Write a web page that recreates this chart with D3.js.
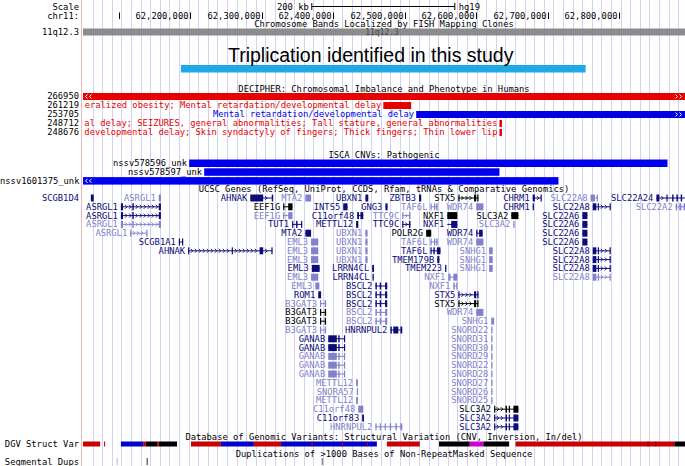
<!DOCTYPE html>
<html>
<head>
<meta charset="utf-8">
<script src="https://cdn.jsdelivr.net/npm/d3@7"></script>
<style>
  body { margin: 0; background: #fff; }
  text { font-family: "DejaVu Sans Mono", monospace; font-size: 8.8px; }
</style>
</head>
<body>
<div id="plot"></div>
<script>
// ---- data (positions in kb on chr11, hg19) ----
const tickKb = [62100, 62200, 62300, 62400, 62500, 62600, 62700, 62800];
const scaleBarKb = [62370, 62570];
const bandName = "11q12.3";
const triplicationKb = [62187, 62753];

const decipherIds = ["266950", "261219", "253705", "248712", "248676"];
const decipherPheno = [
  "",
  "Generalized obesity; Mental retardation/developmental delay",
  "Mental retardation/developmental delay",
  "Mental retardation/developmental delay; SEIZURES, general abnormalities; Tall stature, general abnormalities",
  "Mental retardation/developmental delay; Skin syndactyly of fingers; Thick fingers; Thin lower lip"
];
const decipherStart = [62030, 62470, 62516, 62632.5, 62632.5];
const decipherEnd = [62910, 62509, 62910, 62636, 62636];
const decipherKind = ["red", "red", "blue", "red", "red"];

const iscaIds = ["nssv578596_unk", "nssv578597_unk", "nssv1601375_unk"];
const iscaStart = [62198.5, 62219.5, 62030];
const iscaEnd = [62867.5, 62632.5, 62715];

// UCSC genes: [row, name, shade, start, end, exons]
const asrglEx = [[62103, 62106], [62119, 62121], [62156, 62159]];
const stx5Ex = [[62575, 62576.5], [62597, 62600], [62601.5, 62603]];
const taf6lEx = [[62536, 62537], [62541, 62542], [62544, 62546]];
const slc22a8Ex = [[62763, 62768], [62770, 62771.5], [62786.5, 62788]];
const bscl2Ex = [[62459, 62461], [62465, 62467], [62472.5, 62475.5]];
const b3gat3Ex = [[62381.5, 62383], [62388, 62390]];
const ganabEx = [[62393, 62405], [62407, 62409], [62415, 62416.5]];
const slc3a2Ex = [[62625, 62626], [62641, 62643], [62645.5, 62647], [62652, 62659]];
const genes = [
  [1, "SCGB1D4", "n", 62061, 62065],
  [1, "ASRGL1", "l", 62156, 62159],
  [1, "AHNAK", "n", 62284, 62316, [[62284, 62302], [62314, 62316]]],
  [1, "MTA2", "l", 62361, 62369],
  [1, "UBXN1", "n", 62445, 62449],
  [1, "ZBTB3", "n", 62520, 62523],
  [1, "STX5", "k", 62575, 62603, stx5Ex],
  [1, "CHRM1", "n", 62679, 62691, [[62679, 62682], [62690, 62691]]],
  [1, "SLC22A8", "l", 62760, 62770, [[62760, 62766], [62768.5, 62770]]],
  [1, "SLC22A24", "n", 62852, 62900, [[62852, 62856], [62866, 62867.5], [62874, 62876], [62880, 62882], [62886, 62888]]],
  [2, "ASRGL1", "n", 62103, 62159, asrglEx],
  [2, "EEF1G", "k", 62330, 62343, [[62330, 62331.5], [62337, 62343]]],
  [2, "INTS5", "n", 62414, 62420],
  [2, "GNG3", "n", 62473, 62476],
  [2, "TAF6L", "l", 62536, 62546, taf6lEx],
  [2, "WDR74", "l", 62600, 62610],
  [2, "CHRM1", "n", 62679, 62680.5],
  [2, "SLC22A8", "n", 62763, 62788, slc22a8Ex],
  [2, "SLC22A2", "l", 62879, 62900, [[62879, 62881], [62884, 62887], [62890, 62892]]],
  [3, "ASRGL1", "n", 62103, 62159, asrglEx],
  [3, "EEF1G", "l", 62330, 62343, [[62330, 62331.5], [62337, 62343]]],
  [3, "C11orf48", "n", 62433.5, 62442, [[62433.5, 62436], [62438, 62442]]],
  [3, "TTC9C", "l", 62496.5, 62508, [[62496.5, 62498], [62506, 62508]]],
  [3, "NXF1", "k", 62559.5, 62573.5],
  [3, "SLC3A2", "k", 62649, 62659],
  [3, "SLC22A6", "n", 62748.5, 62755.5],
  [4, "ASRGL1", "l", 62103, 62159, asrglEx],
  [4, "TUT1", "n", 62342.5, 62356.5, [[62342.5, 62344], [62348, 62350], [62355, 62356.5]]],
  [4, "METTL12", "n", 62432, 62435],
  [4, "TTC9C", "n", 62496.5, 62508, [[62496.5, 62498], [62506, 62508]]],
  [4, "NXF1", "n", 62559.5, 62573.5, [[62565, 62573.5]]],
  [4, "SLC3A2", "l", 62652, 62653.5],
  [4, "SLC22A6", "n", 62748.5, 62755.5],
  [5, "ASRGL1", "l", 62116, 62140, [[62116, 62117], [62138.5, 62140]]],
  [5, "MTA2", "n", 62361, 62369],
  [5, "UBXN1", "l", 62445, 62448],
  [5, "POLR2G", "k", 62530, 62537],
  [5, "WDR74", "n", 62600, 62609, [[62600, 62601], [62604, 62609]]],
  [5, "SLC22A6", "n", 62748.5, 62755.5],
  [6, "SCGB1A1", "n", 62184, 62190, [[62184, 62185], [62188.5, 62190]]],
  [6, "EML3", "l", 62369, 62379],
  [6, "UBXN1", "l", 62445, 62448],
  [6, "TAF6L", "l", 62536, 62546, taf6lEx],
  [6, "WDR74", "l", 62600, 62610],
  [6, "SLC22A6", "n", 62748.5, 62755.5],
  [7, "AHNAK", "n", 62197, 62315, [[62197, 62198], [62258, 62259.5], [62297, 62302], [62313.5, 62315]]],
  [7, "EML3", "l", 62369, 62379],
  [7, "UBXN1", "l", 62445, 62448],
  [7, "TAF6L", "n", 62536, 62550, [[62536, 62537], [62540, 62542], [62545, 62550]]],
  [7, "SNHG1", "l", 62618, 62623],
  [7, "SLC22A8", "n", 62763, 62788, slc22a8Ex],
  [8, "EML3", "l", 62369, 62379],
  [8, "UBXN1", "l", 62445, 62448],
  [8, "TMEM179B", "n", 62545.5, 62548.5],
  [8, "SNHG1", "l", 62618, 62623],
  [8, "SLC22A8", "n", 62763, 62788, slc22a8Ex],
  [9, "EML3", "n", 62370, 62381],
  [9, "LRRN4CL", "n", 62454.5, 62457],
  [9, "TMEM223", "n", 62556.5, 62558],
  [9, "SNHG1", "l", 62618, 62623],
  [9, "SLC22A8", "n", 62763, 62788, slc22a8Ex],
  [10, "EML3", "l", 62369, 62379],
  [10, "LRRN4CL", "n", 62455, 62456.5],
  [10, "NXF1", "l", 62561, 62573.5, [[62561, 62564], [62568, 62573.5]]],
  [10, "SLC22A8", "l", 62763, 62788, slc22a8Ex],
  [11, "EML3", "l", 62375, 62380.5],
  [11, "BSCL2", "n", 62459, 62475.5, bscl2Ex],
  [11, "NXF1", "l", 62568, 62573.5, [[62568, 62570], [62572, 62573.5]]],
  [12, "ROM1", "n", 62379, 62383],
  [12, "BSCL2", "n", 62459, 62475.5, bscl2Ex],
  [12, "STX5", "n", 62575, 62603, stx5Ex],
  [13, "B3GAT3", "l", 62381.5, 62390, b3gat3Ex],
  [13, "BSCL2", "n", 62459, 62475.5, bscl2Ex],
  [13, "STX5", "k", 62575, 62603, stx5Ex],
  [14, "B3GAT3", "k", 62381.5, 62390, b3gat3Ex],
  [14, "BSCL2", "l", 62459, 62475.5, bscl2Ex],
  [14, "WDR74", "l", 62600, 62610],
  [15, "B3GAT3", "k", 62381.5, 62390, b3gat3Ex],
  [15, "BSCL2", "l", 62459, 62475.5, bscl2Ex],
  [15, "SNHG1", "l", 62621, 62625],
  [16, "B3GAT3", "l", 62381.5, 62390, b3gat3Ex],
  [16, "HNRNPUL2", "n", 62480, 62496.5, [[62480, 62482], [62484, 62491], [62494, 62496.5]]],
  [16, "SNORD22", "l", 62621, 62622.5],
  [17, "GANAB", "n", 62393, 62416.5, ganabEx],
  [17, "SNORD31", "l", 62621, 62622.5],
  [18, "GANAB", "n", 62393, 62416.5, ganabEx],
  [18, "SNORD30", "l", 62621, 62622.5],
  [19, "GANAB", "l", 62393, 62416.5, ganabEx],
  [19, "SNORD29", "l", 62621, 62622.5],
  [20, "GANAB", "l", 62393, 62416.5, ganabEx],
  [20, "SNORD22", "l", 62621, 62622.5],
  [21, "GANAB", "l", 62393, 62416.5, ganabEx],
  [21, "SNORD28", "l", 62621, 62622.5],
  [22, "METTL12", "l", 62432, 62434.5],
  [22, "SNORD27", "l", 62621, 62622.5],
  [23, "SNORA57", "l", 62433, 62434],
  [23, "SNORD26", "l", 62621, 62622.5],
  [24, "METTL12", "l", 62432, 62434.5],
  [24, "SNORD25", "l", 62621, 62622.5],
  [25, "C11orf48", "l", 62435, 62442],
  [25, "SLC3A2", "k", 62625, 62659, slc3a2Ex],
  [26, "C11orf83", "n", 62440.5, 62443],
  [26, "SLC3A2", "n", 62625, 62659, slc3a2Ex],
  [27, "HNRNPUL2", "l", 62459, 62496.5, [[62459, 62460], [62465, 62466], [62472, 62473], [62479, 62481], [62487, 62489], [62494, 62496.5]]],
  [27, "SLC3A2", "n", 62625, 62659, slc3a2Ex]
];

// DGV structural variants: [start, end, kind]
const dgvSegments = [
  [62050, 62074, "red"], [62079.5, 62081, "red"],
  [62103, 62134, "blue"], [62134, 62138, "red"], [62138, 62153.5, "black"],
  [62153.5, 62156, "red"], [62156, 62181.5, "black"],
  [62201, 62243, "red"], [62243, 62289, "blue"], [62289, 62327, "red"],
  [62327, 62461, "blue"], [62369.5, 62371, "red"], [62412, 62413, "red"], [62447, 62448, "red"],
  [62475, 62521, "red"],
  [62548, 62591, "black"], [62591, 62610, "magenta"], [62610, 62646, "black"],
  [62655, 62877, "red"], [62839.5, 62840.5, "darkred"], [62850.5, 62851.5, "darkred"],
  [62877, 62892, "black"]
];
// Segmental dups: [position, shade]
const segDups = [[62097.5, "#d0d0d0"], [62139.5, "#707070"], [62384.5, "#8a8a8a"]];

// ---- drawing ----
const W = 685, H = 466, LEFT = 83, LABEL_X = 79, CHAR_W = 5.3;
const svg = d3.select("#plot").append("svg").attr("width", W).attr("height", H);
svg.append("rect").attr("width", W).attr("height", H).attr("fill", "#fff");

const x = d3.scaleLinear().domain([62050, 62892]).range([LEFT, W]);
const rowY = d3.scaleLinear().domain([1, 27]).range([198, 426.8]);
const kindColor = { red: "#e60000", blue: "#0000e6" };
const dgvColor = { red: "#c80000", blue: "#0000c8", black: "#000", magenta: "#d000d0", darkred: "#500020" };
const shadeColor = { k: "#000000", n: "#0c0c78", l: "#8282cc" };

svg.append("clipPath").attr("id", "data").append("rect")
  .attr("x", LEFT).attr("y", 0).attr("width", W - LEFT).attr("height", H);

// guidelines
const grid = svg.append("g");
d3.range(LEFT + 9.6, W, 9.6).forEach(gx => {
  grid.append("line").attr("x1", Math.round(gx) + 0.5).attr("x2", Math.round(gx) + 0.5)
    .attr("y1", 0).attr("y2", H).attr("stroke", "#d2d2f4");
});
svg.append("line").attr("x1", 81.5).attr("x2", 81.5).attr("y1", 0).attr("y2", H).attr("stroke", "#f2b8b8");

const data = svg.append("g").attr("clip-path", "url(#data)");
const leftLabel = (y, t, col) => {
  const wide = t.length * CHAR_W > LABEL_X;
  return svg.append("text").attr("x", wide ? 0 : LABEL_X).attr("y", y)
    .attr("text-anchor", wide ? "start" : "end").attr("fill", col || "#000").text(t);
};
const title = (y, t) => data.append("text").attr("x", (LEFT + W) / 2).attr("y", y)
  .attr("text-anchor", "middle").text(t);

// scale bar
leftLabel(9.5, "Scale");
const sb0 = x(scaleBarKb[0]), sb1 = x(scaleBarKb[1]);
data.append("text").attr("x", sb0 - 3).attr("y", 9.5).attr("text-anchor", "end").text("200 kb");
data.append("path").attr("fill", "none").attr("stroke", "#000")
  .attr("d", `M${sb0},3V10M${sb0},6.5H${sb1}M${sb1},3V10`);
data.append("text").attr("x", sb1 + 4).attr("y", 9.5).text("hg19");

// chromosome position axis
leftLabel(18.5, "chr11:");
tickKb.forEach(k => {
  const tx = Math.round(x(k)) + 0.5;
  data.append("line").attr("x1", tx).attr("x2", tx).attr("y1", 12.5).attr("y2", 19).attr("stroke", "#000");
  const lab = d3.format(",")(k * 1000);
  if (tx - 2 - lab.length * CHAR_W >= LEFT)
    data.append("text").attr("x", tx - 2).attr("y", 18.5).attr("text-anchor", "end").text(lab);
});

// chromosome band
title(26.8, "Chromosome Bands Localized by FISH Mapping Clones");
leftLabel(35, bandName);
data.append("rect").attr("x", x.range()[0]).attr("y", 28.5).attr("width", x.range()[1] - x.range()[0])
  .attr("height", 7).attr("fill", "#8c8c8c");
data.append("text").attr("x", 382).attr("y", 35).attr("text-anchor", "middle")
  .style("font-size", "8px").attr("fill", "#4a4a4a").text(bandName);

// triplication annotation
svg.append("text").attr("x", 228).attr("y", 61.5)
  .style("font-family", "'Liberation Sans', Arial, sans-serif").style("font-size", "19.5px")
  .text("Triplication identified in this study");
data.append("rect").attr("x", x(triplicationKb[0])).attr("y", 65)
  .attr("width", x(triplicationKb[1]) - x(triplicationKb[0])).attr("height", 7.5).attr("fill", "#1eaae4");

// arrows inside bars that run off the view
function offArrows(y0, h, s, e) {
  const cy = y0 + h / 2;
  if (s < x.domain()[0]) [86, 90].forEach(ax =>
    data.append("path").attr("d", `M${ax + 1.5},${cy - 2}L${ax - 0.5},${cy}L${ax + 1.5},${cy + 2}`)
      .attr("fill", "none").attr("stroke", "#fff").attr("stroke-width", 1));
  if (e > x.domain()[1]) [677, 681].forEach(ax =>
    data.append("path").attr("d", `M${ax - 1.5},${cy - 2}L${ax + 0.5},${cy}L${ax - 1.5},${cy + 2}`)
      .attr("fill", "none").attr("stroke", "#fff").attr("stroke-width", 1));
}

// DECIPHER (phenotype text runs left of the bar and is cut at the data edge)
title(91.5, "DECIPHER: Chromosomal Imbalance and Phenotype in Humans");
decipherIds.forEach((id, i) => {
  const y0 = 93 + i * 9, col = kindColor[decipherKind[i]];
  const bx = Math.max(x(decipherStart[i]), LEFT - 2), ex = Math.min(x(decipherEnd[i]), W + 2);
  leftLabel(y0 + 6.3, id);
  data.append("rect").attr("x", bx).attr("y", y0).attr("width", Math.max(2.5, ex - bx)).attr("height", 7).attr("fill", col);
  const ph = decipherPheno[i];
  if (ph) {
    const fit = Math.floor((bx - 2 - LEFT) / CHAR_W);
    data.append("text").attr("x", bx - 2).attr("y", y0 + 6.3).attr("text-anchor", "end")
      .attr("fill", col).text(ph.length > fit ? ph.slice(ph.length - fit) : ph);
  }
  offArrows(y0, 7, decipherStart[i], decipherEnd[i]);
});

// ISCA
title(158, "ISCA CNVs: Pathogenic");
iscaIds.forEach((id, i) => {
  const y0 = 159.5 + i * 8.8;
  const bx = Math.max(x(iscaStart[i]), LEFT - 2), ex = Math.min(x(iscaEnd[i]), W + 2);
  data.append("rect").attr("x", bx).attr("y", y0).attr("width", ex - bx).attr("height", 7.5).attr("fill", "#0000f0");
  const lx = bx - 2;
  if (lx - id.length * CHAR_W < LEFT) leftLabel(y0 + 6.5, id);
  else data.append("text").attr("x", lx).attr("y", y0 + 6.5).attr("text-anchor", "end").text(id);
  offArrows(y0, 7.5, iscaStart[i], iscaEnd[i]);
});

// UCSC genes
title(192, "UCSC Genes (RefSeq, UniProt, CCDS, Rfam, tRNAs & Comparative Genomics)");
const gg = data.append("g");
genes.forEach(([row, name, shade, s, e, exons]) => {
  const col = shadeColor[shade], cy = rowY(row);
  const x0 = x(s), x1 = Math.min(x(e), W + 2);
  const ex = exons || [[s, e]];
  gg.append("line").attr("x1", x0).attr("x2", x1).attr("y1", cy).attr("y2", cy).attr("stroke", col);
  for (let i = 0; i < ex.length - 1; i++) {
    const a = x(ex[i][1]), b = x(ex[i + 1][0]);
    for (let cx = a + 3; cx < b - 2; cx += 4)
      gg.append("path").attr("d", `M${cx - 1},${cy - 2}L${cx + 1},${cy}L${cx - 1},${cy + 2}`)
        .attr("fill", "none").attr("stroke", col).attr("stroke-width", 0.9);
  }
  ex.forEach(([a, b]) => gg.append("rect").attr("x", x(a)).attr("y", cy - 3.5)
    .attr("width", Math.max(1.2, x(b) - x(a))).attr("height", 7).attr("fill", col));
  const lx = x0 - 3;
  if (lx - name.length * CHAR_W < LEFT) leftLabel(cy + 3, name, col);
  else gg.append("text").attr("x", lx).attr("y", cy + 3).attr("text-anchor", "end").attr("fill", col).text(name);
});

// DGV
title(440, "Database of Genomic Variants: Structural Variation (CNV, Inversion, In/del)");
leftLabel(447, "DGV Struct Var");
dgvSegments.forEach(([s, e, k]) => {
  data.append("rect").attr("x", x(s)).attr("y", 441.5).attr("width", Math.max(1, x(e) - x(s)))
    .attr("height", 5).attr("fill", dgvColor[k]);
});

// Segmental dups
title(457, "Duplications of >1000 Bases of Non-RepeatMasked Sequence");
leftLabel(465, "Segmental Dups");
segDups.forEach(([p, c]) => {
  data.append("rect").attr("x", x(p) - 0.5).attr("y", 458).attr("width", 1.5).attr("height", 7).attr("fill", c);
});
</script>
</body>
</html>
